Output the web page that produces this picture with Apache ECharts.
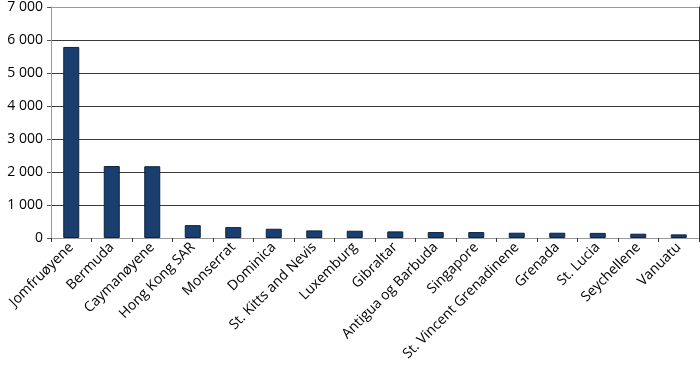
<!DOCTYPE html>
<html>
<head>
<meta charset="utf-8">
<script src="https://cdn.jsdelivr.net/npm/echarts@6/dist/echarts.min.js"></script>
<style>html,body{margin:0;padding:0;background:#fff}#c{width:700px;height:371px}</style>
</head>
<body>
<div id="c"></div>
<script>
var categories = ['Jomfruøyene','Bermuda','Caymanøyene','Hong Kong SAR','Monserrat','Dominica','St. Kitts and Nevis','Luxemburg','Gibraltar','Antigua og Barbuda','Singapore','St. Vincent Grenadinene','Grenada','St. Lucia','Seychellene','Vanuatu'];
var values = [5790, 2180, 2175, 390, 330, 280, 230, 220, 200, 180, 180, 160, 160, 155, 130, 110];
var yTicks = [0, 1000, 2000, 3000, 4000, 5000, 6000, 7000];

var chart = echarts.init(document.getElementById('c'));
var font = '"Open Sans", sans-serif';
chart.setOption({
  animation: false,
  grid: {left: 51, right: 1, top: 7, bottom: 133, containLabel: false},
  xAxis: {
    type: 'category',
    data: categories,
    axisLine: {lineStyle: {color: '#999', width: 1}},
    axisTick: {show: true, length: 4, lineStyle: {color: '#333'}, alignWithLabel: false},
    axisLabel: {rotate: 45, margin: 7, color: '#000', fontSize: 14, fontFamily: font, interval: 0}
  },
  yAxis: [{
    type: 'value',
    min: 0, max: 7000, interval: 1000,
    axisLine: {show: true, lineStyle: {color: '#999'}},
    axisTick: {show: true, length: 4, lineStyle: {color: '#555'}},
    splitLine: {show: true, lineStyle: {color: ['#999','#3a3a3a','#3a3a3a','#3a3a3a','#3a3a3a','#3a3a3a','#3a3a3a','#999'], width: 1}},
    axisLabel: {
      color: '#000', fontSize: 14, fontFamily: font, margin: 8,
      formatter: function (v) { return yTicks.indexOf(v) >= 0 ? String(v).replace(/\B(?=(\d{3})+(?!\d))/g, ' ') : ''; }
    }
  }, {
    type: 'value',
    position: 'right',
    min: 0, max: 7000, interval: 1000,
    axisLine: {show: true, lineStyle: {color: '#333'}},
    axisTick: {show: false},
    axisLabel: {show: false},
    splitLine: {show: false}
  }],
  series: [{
    type: 'bar',
    data: values,
    barWidth: 16,
    itemStyle: {color: '#1a3f6f', borderColor: '#0d2340', borderWidth: 1}
  }]
});
</script>
</body>
</html>
